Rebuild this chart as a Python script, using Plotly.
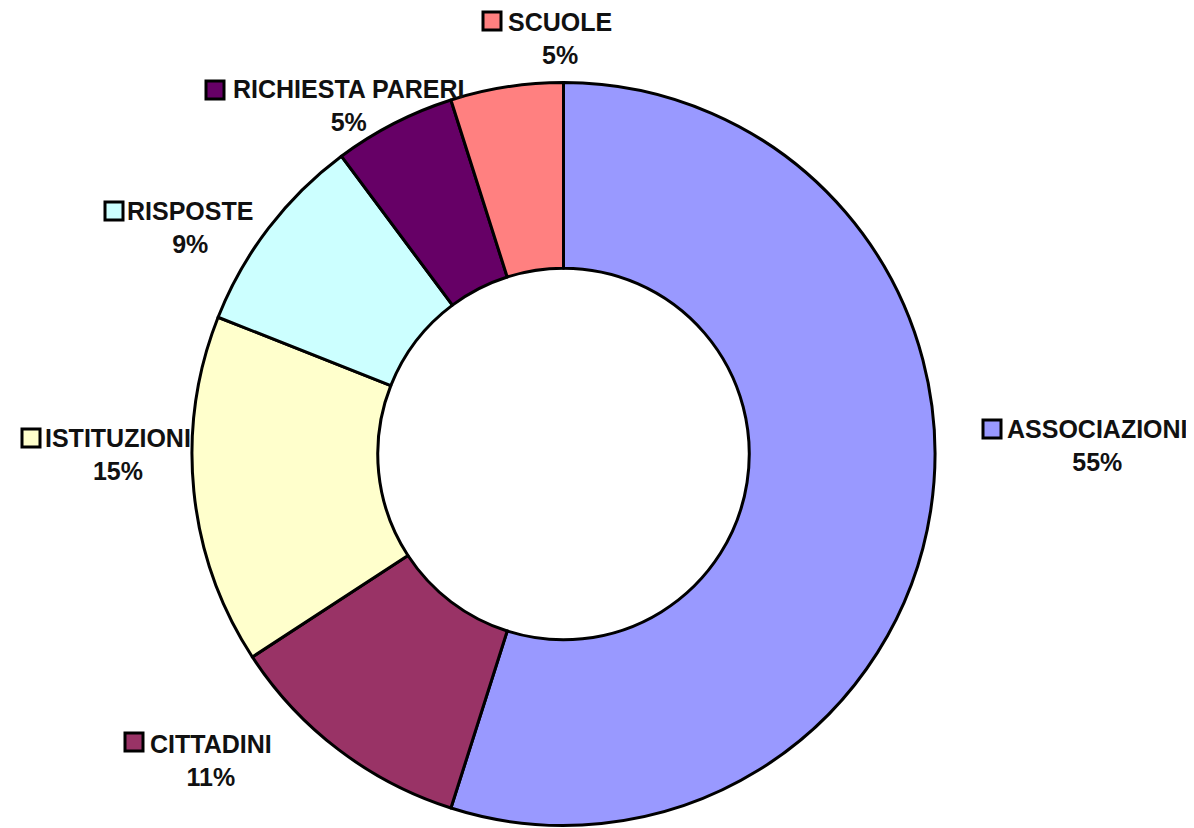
import plotly.graph_objects as go

W, H = 1194, 828
OFF = 8  # margine del body della pagina html

# dati (percentuali)
categorie = ["ASSOCIAZIONI", "CITTADINI", "ISTITUZIONI", "RISPOSTE", "RICHIESTA PARERI", "SCUOLE"]
valori = [54.9, 10.9, 15.2, 8.8, 5.3, 4.9]
colori = ["#9999FF", "#993366", "#FFFFCC", "#CCFFFF", "#660066", "#FF8080"]

# posizione etichette in pixel: (centro testo x, centro blocco y, quadratino x, quadratino y)
pos_etichette = {
    "ASSOCIAZIONI": (1097, 445, 992, 429),
    "CITTADINI": (211, 760, 134, 742),
    "ISTITUZIONI": (118, 455, 31, 438),
    "RISPOSTE": (190, 227, 114, 211),
    "RICHIESTA PARERI": (349, 106, 215, 90),
    "SCUOLE": (560, 38, 492, 21),
}


def px(x):
    return (x - OFF) / W


def py(y):
    return 1 - (y - OFF) / H


fig = go.Figure(go.Pie(
    labels=categorie,
    values=valori,
    marker=dict(colors=colori, line=dict(color="black", width=3)),
    hole=0.5,
    sort=False,
    direction="clockwise",
    rotation=0,
    textinfo="none",
    hoverinfo="label+percent",
    domain=dict(x=[px(192), px(935)], y=[py(826), py(82)]),
))

shapes = []
annotations = []
for nome, val, col in zip(categorie, valori, colori):
    tx, ty, sx, sy = pos_etichette[nome]
    annotations.append(dict(
        x=px(tx), y=py(ty), xref="paper", yref="paper",
        text=f"{nome}<br>{round(val)}%",
        showarrow=False, align="center",
        xanchor="center", yanchor="middle",
        font=dict(family="Liberation Sans, Arial", size=25, color="#111111", weight="bold"),
    ))
    s = 9
    shapes.append(dict(
        type="rect", xref="paper", yref="paper",
        x0=px(sx - s), x1=px(sx + s), y0=py(sy + s), y1=py(sy - s),
        fillcolor=col, line=dict(color="black", width=3),
    ))

fig.update_layout(
    width=W, height=H,
    margin=dict(l=0, r=0, t=0, b=0),
    showlegend=False,
    paper_bgcolor="white",
    plot_bgcolor="white",
    shapes=shapes,
    annotations=annotations,
)

fig.write_html("out.html")
